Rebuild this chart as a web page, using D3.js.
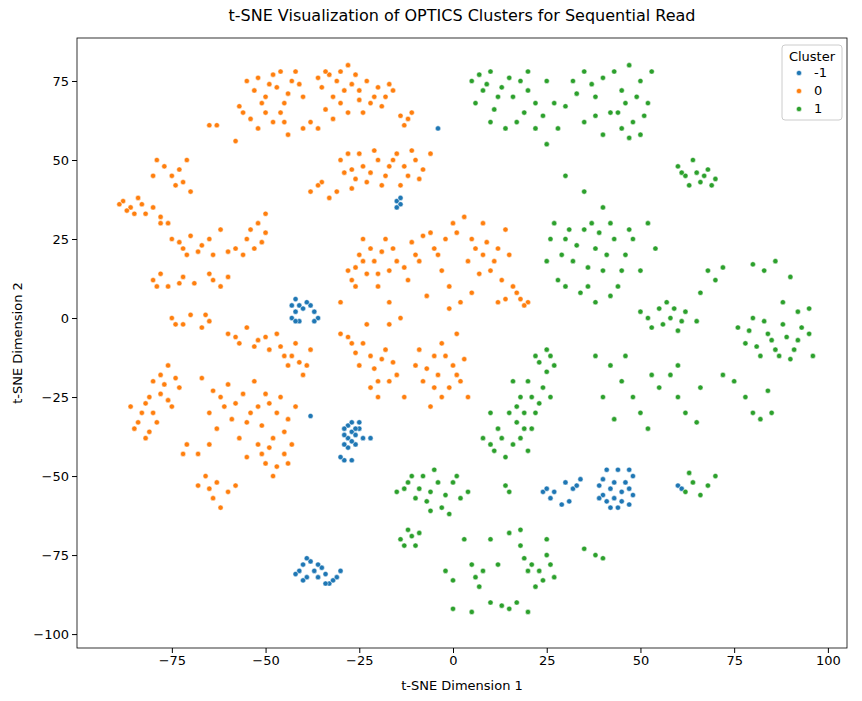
<!DOCTYPE html>
<html>
<head>
<meta charset="utf-8">
<script src="https://cdn.jsdelivr.net/npm/d3@7"></script>
<style>
  body { margin: 0; background: #fff; }
  svg text { font-family: "DejaVu Sans", sans-serif; }
</style>
</head>
<body>
<div id="chart"></div>
<script>
const clusterLabels = ['-1', '0', '1']
const clusterColors = ['#1f77b4', '#ff7f0e', '#2ca02c']
const xTicks = [-75, -50, -25, 0, 25, 50, 75, 100]
const yTicks = [-100, -75, -50, -25, 0, 25, 50, 75]

// cluster -1 (noise)
const noisePts = [[-42,6],[-41,4],[-42,2],[-43,0],[-41,-1],[-38,4],[-37,2],[-36,0],[-39,5],[-42,-1],[-40,3],[-43,4],[-37,-1],
  [-15,37],[-14,36],[-15,35],[-14,38],
  [-28,-34],[-27,-36],[-26,-37],[-28,-38],[-26,-40],[-27,-33],[-25,-35],[-29,-37],[-24,-38],[-29,-45],[-27,-45],[-30,-44],[-22,-38],
  [-29,-35],[-27,-39],[-25,-33],[-28,-41],[-26,-35],[-29,-40],
  [-38,-31],
  [-41,-80],[-40,-78],[-38,-77],[-37,-80],[-35,-79],[-39,-82],[-36,-82],[-34,-81],[-33,-84],[-31,-82],[-30,-80],[-42,-81],
  [-39,-76],[-36,-78],[-32,-83],[-40,-83],[-34,-84],
  [-4,60],
  [24,-55],[27,-55],[26,-57],[30,-52],[32,-54],[34,-51],[29,-59],[31,-58],[33,-53],[25,-54],
  [39,-53],[40,-56],[41,-58],[42,-54],[43,-57],[44,-60],[45,-55],[46,-52],[48,-56],[47,-59],[41,-48],[44,-48],[47,-48],[48,-50],
  [39,-57],[42,-60],[45,-58],[47,-54],[40,-51],[43,-52],
  [60,-53],[61,-54]]

// cluster 0
const cluster0Pts = [[-55,75],[-53,72],[-50,70],[-48,77],[-47,73],[-45,68],[-43,75],[-42,78],[-50,65],[-52,60],[-45,62],[-40,70],[-56,65],[-58,56],[-57,67],
  [-49,74],[-46,78],[-44,71],[-51,68],[-48,62],[-54,63],[-46,65],[-52,76],[-44,58],[-41,74],
  [-35,73],[-33,77],[-30,78],[-28,80],[-27,74],[-25,72],[-22,68],[-20,73],[-18,70],[-30,68],[-32,63],[-36,60],[-34,78],[-26,77],[-16,72],[-24,65],[-40,60],[-38,62],
  [-31,75],[-29,72],[-23,75],[-21,70],[-19,67],[-17,74],[-32,70],[-28,65],[-34,66],[-25,69],[-36,76],
  [-14,64],[-12,63],[-11,65],[-13,61],[-65,61],[-63,61],
  [-30,50],[-27,47],[-25,52],[-22,46],[-20,50],[-17,48],[-15,52],[-12,45],[-10,50],[-8,47],[-6,52],[-23,43],[-27,41],[-35,43],[-33,38],[-38,40],[-19,42],[-14,42],
  [-28,52],[-26,44],[-24,48],[-21,53],[-18,45],[-16,50],[-13,48],[-11,53],[-9,44],[-29,46],[-31,40],[-36,42],
  [-88,37],[-86,35],[-84,38],[-80,35],[-78,32],[-76,30],[-80,45],[-77,48],[-73,47],[-74,42],[-71,50],[-70,40],[-85,33],
  [-87,34],[-89,36],[-83,36],[-79,50],[-75,45],[-72,43],[-78,30],[-82,33],
  [-75,25],[-72,22],[-70,26],[-67,23],[-64,20],[-60,21],[-55,25],[-52,30],[-50,27],[-56,20],[-62,28],[-50,33],[-53,22],
  [-73,24],[-68,21],[-65,25],[-58,22],[-54,28],[-51,24],[-71,20],
  [-80,12],[-78,14],[-76,10],[-72,13],[-69,11],[-65,14],[-60,13],[-62,10],[-79,10],[-73,11],[-64,12],
  [-75,0],[-72,-2],[-70,1],[-67,-3],[-65,-1],[-74,-2],[-66,1],
  [-60,-5],[-57,-8],[-55,-3],[-52,-7],[-49,-10],[-47,-5],[-45,-12],[-42,-8],[-44,-15],[-40,-18],[-38,-10],
  [-58,-6],[-53,-9],[-50,-6],[-46,-9],[-43,-12],[-41,-14],[-39,-15],
  [-85,-35],[-83,-30],[-81,-25],[-80,-20],[-78,-18],[-76,-15],[-82,-38],[-79,-33],[-75,-28],[-73,-22],[-71,-40],[-86,-28],
  [-84,-33],[-82,-27],[-80,-30],[-78,-24],[-77,-21],[-76,-26],[-74,-19],[-81,-36],
  [-65,-30],[-62,-25],[-60,-21],[-58,-27],[-55,-33],[-52,-28],[-50,-24],[-47,-30],[-45,-36],[-42,-28],[-63,-35],[-57,-38],[-53,-20],[-48,-38],[-67,-19],
  [-61,-28],[-59,-32],[-56,-24],[-54,-30],[-51,-34],[-49,-27],[-46,-25],[-44,-32],[-64,-23],
  [-68,-53],[-66,-50],[-64,-57],[-62,-60],[-60,-55],[-58,-53],[-55,-44],[-52,-40],[-50,-46],[-48,-50],[-45,-43],[-43,-40],[-68,-43],[-72,-43],[-65,-40],
  [-65,-54],[-63,-52],[-51,-43],[-49,-41],[-47,-47],[-44,-46],
  [-28,15],[-26,10],[-24,18],[-22,22],[-20,14],[-18,25],[-15,18],[-12,12],[-10,20],[-8,26],[-5,22],[-3,15],[-1,10],[2,5],[0,30],[3,32],[5,25],[8,20],[10,15],[12,22],[14,28],[16,10],[18,6],[20,5],[-17,5],[-14,0],[-30,5],[-7,7],[5,8],[8,30],[12,5],[-1,3],[-24,25],
  [-27,12],[-25,20],[-23,14],[-21,18],[-19,21],[-17,15],[-16,22],[-13,16],[-11,24],[-9,18],[-6,27],[-4,20],[-2,25],[1,27],[4,18],[6,22],[7,14],[9,24],[11,18],[13,12],[15,20],[17,8],[19,4],[14,6],[-20,10],[-26,16],
  [-30,-5],[-27,-8],[-25,-15],[-22,-12],[-20,-20],[-18,-10],[-15,-18],[-13,-25],[-20,-25],[-17,-2],[-23,-2],
  [-28,-6],[-26,-11],[-24,-8],[-21,-16],[-19,-13],[-17,-20],[-16,-14],[-22,-22],
  [-10,-15],[-8,-20],[-5,-12],[-3,-8],[0,-15],[2,-20],[4,-25],[-3,-25],[-6,-28],[1,-5],[-1,-22],
  [-9,-10],[-7,-16],[-4,-18],[-2,-12],[1,-18],[3,-13],[-5,-22]]

// cluster 1
const cluster1Pts = [[5,75],[8,72],[10,78],[12,70],[15,76],[17,62],[20,72],[22,60],[25,75],[27,68],[10,62],[14,60],[20,78],[25,55],[6,68],[28,60],
  [7,77],[9,74],[13,73],[16,70],[18,75],[22,68],[24,64],[19,65],[11,66],
  [32,75],[35,78],[38,70],[40,76],[42,65],[45,72],[47,80],[50,75],[48,62],[52,68],[35,62],[40,58],[45,60],[50,58],[30,67],[53,78],
  [33,71],[37,74],[43,78],[46,68],[49,70],[51,64],[47,57],[44,65],[38,64],
  [60,48],[62,45],[64,50],[66,43],[68,47],[70,44],[65,46],[63,42],[67,45],[69,42],[61,46],
  [27,30],[30,25],[32,18],[35,28],[38,22],[40,15],[42,30],[44,10],[46,20],[48,25],[50,15],[52,30],[28,12],[34,8],[38,5],[25,18],[40,35],[30,45],[35,40],[54,22],
  [29,20],[31,28],[33,23],[36,16],[37,30],[39,27],[41,20],[43,25],[45,15],[47,28],[36,10],[42,7],[30,10],[26,25],
  [50,2],[53,-3],[55,3],[58,0],[60,-4],[62,2],[65,-1],[57,5],[52,0],[56,-2],[59,3],[61,-1],
  [68,15],[70,12],[72,16],[66,8],
  [80,17],[83,15],[86,18],[90,13],[88,5],[92,2],[95,3],
  [76,-3],[78,-8],[80,0],[82,-12],[84,-5],[86,-10],[88,-2],[90,-13],[92,-7],[95,-5],[96,-12],
  [79,-4],[81,-9],[83,-1],[85,-7],[87,-12],[89,-6],[91,-10],[93,-3],
  [25,-10],[27,-15],[22,-12],[20,-20],[18,-25],[15,-30],[12,-35],[10,-40],[8,-38],[14,-44],[18,-38],[22,-30],[24,-22],[16,-20],[20,-42],[26,-25],[10,-30],
  [23,-14],[25,-17],[21,-25],[19,-30],[17,-33],[13,-38],[11,-42],[16,-40],[19,-35],[21,-35],[23,-27],[17,-28],[26,-12],
  [38,-12],[42,-15],[45,-20],[48,-25],[50,-30],[52,-35],[40,-25],[43,-32],[46,-12],[53,-18],[55,-22],
  [58,-18],[60,-25],[62,-30],[65,-33],[66,-22],[60,-15],
  [72,-18],[75,-20],[78,-25],[80,-30],[82,-32],[84,-23],[85,-30],
  [-15,-55],[-12,-52],[-10,-57],[-8,-50],[-6,-55],[-3,-60],[0,-52],[2,-57],[4,-55],[-5,-48],[-1,-62],
  [-13,-54],[-11,-50],[-9,-54],[-7,-58],[-4,-52],[-2,-56],[1,-50],[-6,-61],
  [-14,-70],[-12,-67],[-10,-72],[-9,-68],[-13,-72],[-11,-69],[14,-53],[15,-55],
  [-2,-80],[0,-83],[5,-78],[7,-85],[10,-90],[12,-78],[15,-68],[18,-72],[20,-80],[22,-85],[25,-75],[27,-82],[15,-92],[20,-93],[5,-93],[0,-92],[25,-70],[10,-70],[3,-70],
  [19,-76],[21,-78],[23,-80],[24,-83],[26,-78],[17,-90],[13,-91],[8,-80],[6,-82],[18,-67],
  [35,-73],[38,-75],[40,-76],
  [62,-55],[64,-52],[66,-56],[68,-53],[70,-50],[63,-49]]

const width = 862, height = 701
const margin = ({ top: 38, right: 15, bottom: 53, left: 77 })

const svg = d3.select('#chart').append('svg')
    .attr('width', width).attr('height', height)

const x = d3.scaleLinear()
    .domain([-100.3, 105.1])
    .range([margin.left, width - margin.right])
const y = d3.scaleLinear()
    .domain([-104.4, 88.6])
    .range([height - margin.bottom, margin.top])

const fmt = d => d < 0 ? '\u2212' + Math.abs(d) : String(d)

const xAxis = g => g
    .attr('transform', `translate(0,${height - margin.bottom})`)
    .call(d3.axisBottom(x).tickValues(xTicks).tickFormat(fmt).tickSizeOuter(0).tickSize(5))
const yAxis = g => g
    .attr('transform', `translate(${margin.left},0)`)
    .call(d3.axisLeft(y).tickValues(yTicks).tickFormat(fmt).tickSizeOuter(0).tickSize(5))

svg.append('g').call(xAxis).call(g => g.select('.domain').remove())
svg.append('g').call(yAxis).call(g => g.select('.domain').remove())
svg.selectAll('.tick text').attr('font-size', 13).attr('fill', '#000')
svg.selectAll('.tick line').attr('stroke', '#000')

const series = [noisePts, cluster0Pts, cluster1Pts]
series.forEach((pts, i) => {
    svg.append('g').selectAll('circle')
        .data(pts)
        .join('circle')
        .attr('cx', d => x(d[0]))
        .attr('cy', d => y(d[1]))
        .attr('r', 2.6)
        .attr('fill', clusterColors[i])
        .attr('stroke', '#fff')
        .attr('stroke-width', 0.5)
})

svg.append('rect')
    .attr('x', margin.left).attr('y', margin.top)
    .attr('width', width - margin.left - margin.right)
    .attr('height', height - margin.top - margin.bottom)
    .attr('fill', 'none').attr('stroke', '#000').attr('stroke-width', 0.8)

svg.append('text')
    .attr('x', (margin.left + width - margin.right) / 2).attr('y', 21)
    .attr('text-anchor', 'middle').attr('font-size', 16)
    .text('t-SNE Visualization of OPTICS Clusters for Sequential Read')
svg.append('text')
    .attr('x', (margin.left + width - margin.right) / 2).attr('y', 690)
    .attr('text-anchor', 'middle').attr('font-size', 13)
    .text('t-SNE Dimension 1')
svg.append('text')
    .attr('transform', `translate(22,${(margin.top + height - margin.bottom) / 2}) rotate(-90)`)
    .attr('text-anchor', 'middle').attr('font-size', 13)
    .text('t-SNE Dimension 2')

// legend
const lg = svg.append('g').attr('transform', 'translate(782,45)')
lg.append('rect').attr('width', 60).attr('height', 75).attr('rx', 3)
    .attr('fill', '#fff').attr('fill-opacity', 0.8).attr('stroke', '#ccc')
lg.append('text').attr('x', 30).attr('y', 16).attr('text-anchor', 'middle')
    .attr('font-size', 13).text('Cluster')
clusterLabels.forEach((lab, i) => {
    const row = lg.append('g').attr('transform', `translate(0,${32 + i * 18})`)
    row.append('circle').attr('cx', 17).attr('cy', -4).attr('r', 2.6)
        .attr('fill', clusterColors[i]).attr('stroke', '#fff').attr('stroke-width', 0.5)
    row.append('text').attr('x', 32).attr('y', 0).attr('font-size', 13).text(lab)
})
</script>
</body>
</html>
